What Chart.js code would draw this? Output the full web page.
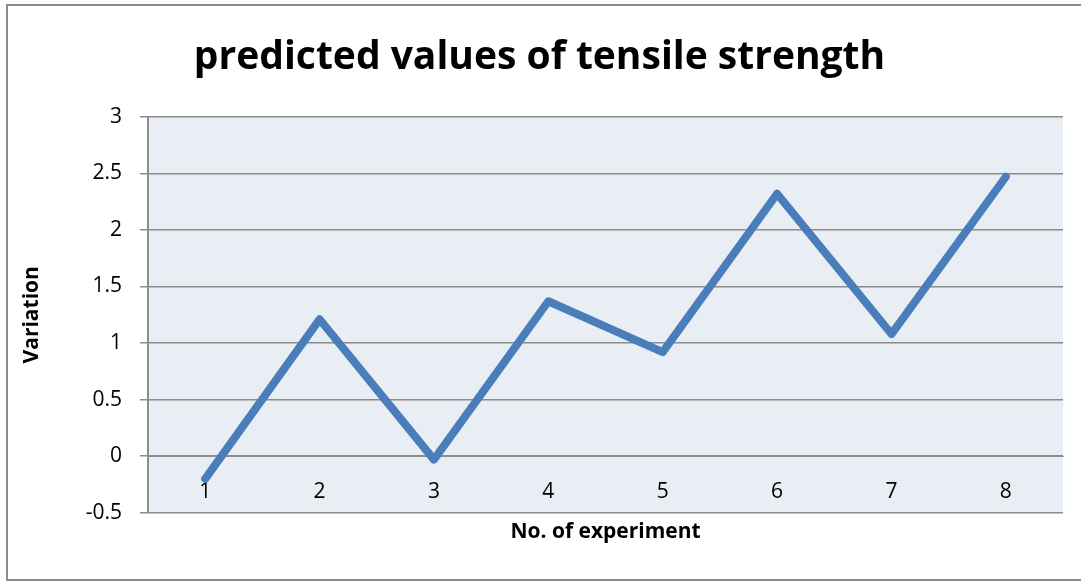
<!DOCTYPE html>
<html>
<head>
<meta charset="utf-8">
<title>predicted values of tensile strength</title>
<script src="https://cdn.jsdelivr.net/npm/chart.js@4.4.1/dist/chart.umd.min.js"></script>
<style>
    html, body { margin: 0; padding: 0; background: #fff; }
    #wrap { width: 1081px; height: 581px; position: relative; }
</style>
</head>
<body>
<div id="wrap"><canvas id="chart"></canvas></div>
<script>
// Chart data
const experiments = ['1', '2', '3', '4', '5', '6', '7', '8'];
const variation = [-0.2, 1.21, -0.03, 1.37, 0.92, 2.32, 1.08, 2.47];
const yTicks = [-0.5, 0, 0.5, 1, 1.5, 2, 2.5, 3];

const FONT = '"Open Sans", "Noto Sans", sans-serif';
const GRID = '#8c8c8c';

// plot background + outer frame
const framePlugin = {
    id: 'frame',
    beforeDraw(chart) {
        const { ctx, chartArea } = chart;
        ctx.save();
        ctx.fillStyle = '#e9edf4';
        ctx.fillRect(chartArea.left, chartArea.top,
            chartArea.right - chartArea.left, chartArea.bottom - chartArea.top);
        ctx.strokeStyle = '#8a8a8a';
        ctx.lineWidth = 2;
        ctx.strokeRect(7, 5, 1100, 575);
        ctx.restore();
    }
};

new Chart(document.getElementById('chart'), {
    type: 'line',
    data: {
        labels: experiments,
        datasets: [{
            label: 'Variation',
            data: variation,
            borderColor: '#4a7ebb',
            borderWidth: 8,
            borderCapStyle: 'round',
            borderJoinStyle: 'round',
            pointRadius: 0,
            tension: 0,
            fill: false,
            clip: false
        }]
    },
    options: {
        responsive: true,
        maintainAspectRatio: false,
        animation: false,
        layout: { padding: { left: 16, right: 18, top: 10, bottom: 10 } },
        plugins: {
            legend: { display: false },
            tooltip: { enabled: false },
            title: {
                display: true,
                text: 'predicted values of tensile strength',
                color: '#000',
                font: { family: FONT, size: 39, weight: 'bold', lineHeight: 1.2 },
                padding: { top: 24, bottom: 36 }
            }
        },
        scales: {
            x: {
                type: 'category',
                position: { y: 0 },
                offset: true,
                grid: { display: false, drawTicks: false },
                border: { display: true, color: GRID, width: 1 },
                ticks: {
                    color: '#000',
                    font: { family: FONT, size: 21 },
                    padding: 23
                }
            },
            x2: {
                type: 'category',
                position: 'bottom',
                labels: experiments,
                grid: { display: false, drawTicks: false },
                border: { display: false },
                ticks: { display: false },
                title: {
                    display: true,
                    text: 'No. of experiment',
                    color: '#000',
                    font: { family: FONT, size: 21, weight: 'bold', lineHeight: 1.2 },
                    padding: { top: 7, bottom: 26 }
                }
            },
            y: {
                min: -0.5,
                max: 3,
                afterBuildTicks(scale) {
                    scale.ticks = yTicks.map(v => ({ value: v }));
                },
                afterFit(scale) {
                    scale.width = 148 - 16;
                },
                grid: {
                    color: GRID,
                    lineWidth: 1.5,
                    drawTicks: true,
                    tickLength: 8
                },
                border: { display: true, color: GRID, width: 2 },
                ticks: {
                    color: '#000',
                    font: { family: FONT, size: 21 },
                    padding: 18,
                    callback: v => String(v)
                },
                title: {
                    display: true,
                    text: 'Variation',
                    color: '#000',
                    font: { family: FONT, size: 21, weight: 'bold', lineHeight: 1.2 },
                    padding: { top: 3, bottom: 0 }
                }
            }
        }
    },
    plugins: [framePlugin]
});
</script>
</body>
</html>
